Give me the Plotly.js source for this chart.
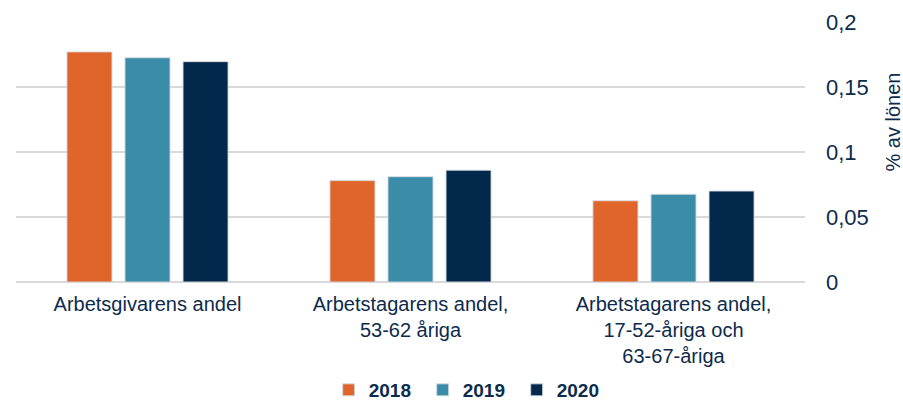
<!DOCTYPE html>
<html>
<head>
<meta charset="utf-8">
<script src="https://cdn.plot.ly/plotly-3.0.1.min.js"></script>
<style>html,body{margin:0;padding:0;background:#fff;}#chart{width:903px;height:400px;}</style>
</head>
<body>
<div id="chart"></div>
<script>
const categories = [
  "Arbetsgivarens andel",
  "Arbetstagarens andel,<br>53-62 åriga",
  "Arbetstagarens andel,<br>17-52-åriga och<br>63-67-åriga"
];
const years = ["2018", "2019", "2020"];
const values2018 = [0.177, 0.078, 0.0625];
const values2019 = [0.1725, 0.081, 0.0675];
const values2020 = [0.1695, 0.086, 0.070];
const yTickVals = [0, 0.05, 0.1, 0.15, 0.2];
const yTickText = ["0", "0,05", "0,1", "0,15", "0,2"];
const yTitle = "% av lönen";
const colors = ["#DF652A", "#3A8CA9", "#02284B"];

const textColor = "#0d2b4c";
const series = [values2018, values2019, values2020];
const traces = series.map((v, i) => ({
  type: "bar",
  name: years[i],
  x: categories,
  y: v,
  marker: {color: colors[i], line: {color: "rgba(215,220,225,0.9)", width: 1}},
  hoverinfo: "skip"
}));

const layout = {
  width: 903, height: 400,
  margin: {l: 16, r: 98, t: 22, b: 118},
  paper_bgcolor: "#fff", plot_bgcolor: "#fff",
  font: {family: "Liberation Sans, Arial, sans-serif", color: textColor, size: 18},
  barmode: "group",
  bargap: 0.338,
  bargroupgap: 0.224,
  xaxis: {
    showgrid: false, zeroline: false, showline: false,
    ticks: "", tickfont: {size: 20, color: textColor},
    ticklabelstandoff: 8,
    fixedrange: true
  },
  yaxis: {
    side: "right",
    range: [0, 0.2],
    tickvals: yTickVals, ticktext: yTickText,
    tickfont: {size: 22, color: textColor},
    ticklabelstandoff: 20,
    showgrid: true, gridcolor: "#d9d9d9", gridwidth: 2,
    zeroline: true, zerolinecolor: "#d9d9d9", zerolinewidth: 2,
    showline: false, ticks: "",
    automargin: false,
    fixedrange: true
  },
  annotations: [{
    text: yTitle,
    xref: "paper", x: 1.112, xanchor: "center",
    yref: "paper", y: 0.615, yanchor: "middle",
    textangle: -90, showarrow: false,
    font: {size: 20, color: textColor}
  }],
  showlegend: true,
  legend: {
    orientation: "h",
    xref: "paper", x: 0.575, xanchor: "center",
    yref: "container", y: 0.025, yanchor: "middle",
    font: {size: 19, color: textColor, family: "Liberation Sans, Arial, sans-serif", weight: "bold"},
    itemwidth: 30,
    entrywidth: 49,
    traceorder: "normal"
  }
};

Plotly.newPlot("chart", traces, layout, {displayModeBar: false, staticPlot: true});
</script>
</body>
</html>
